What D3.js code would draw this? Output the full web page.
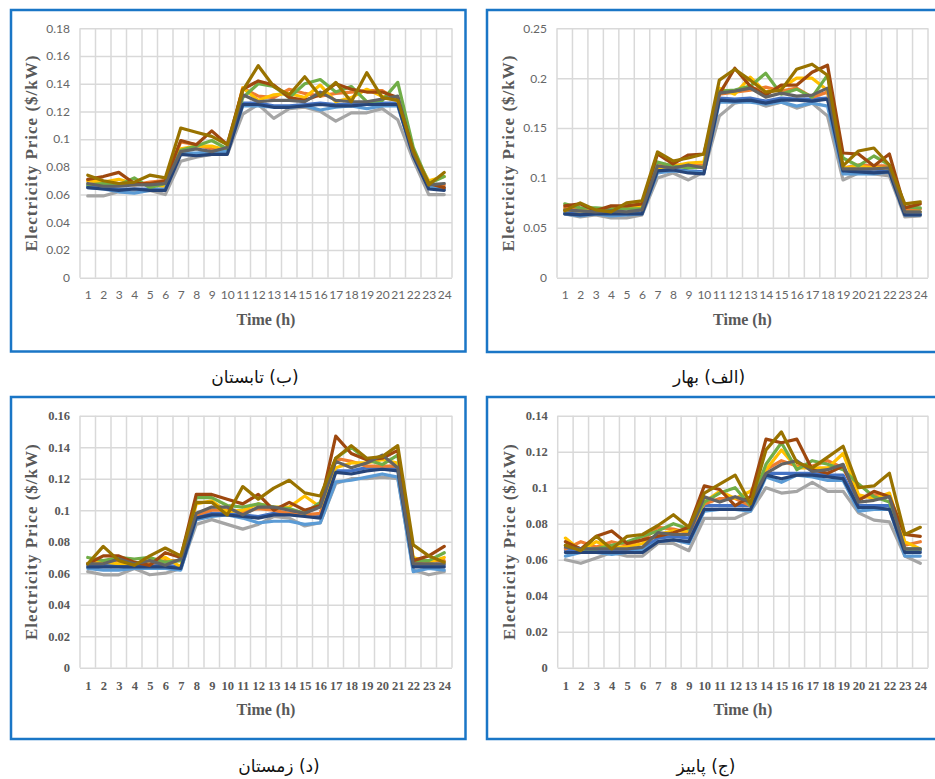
<!DOCTYPE html>
<html>
<head>
<meta charset="utf-8">
<script src="https://cdn.jsdelivr.net/npm/d3@7"></script>
<style>
  body { margin: 0; background: #fff; }
  svg { display: block; }
</style>
</head>
<body>
<svg id="chart" width="935" height="779"></svg>
<script>
// Hours of the day (category axis)
const hours = [1, 2, 3, 4, 5, 6, 7, 8, 9, 10, 11, 12, 13, 14, 15, 16, 17, 18, 19, 20, 21, 22, 23, 24];

// One colour per scenario line, in drawing order
const seriesColors = ["#4472C4", "#ED7D31", "#A5A5A5", "#FFC000", "#5B9BD5",
                      "#70AD47", "#264478", "#9E480E", "#636363", "#997300"];

// Y tick values per season
const springTicks = [0, 0.05, 0.1, 0.15, 0.2, 0.25];
const summerTicks = [0, 0.02, 0.04, 0.06, 0.08, 0.1, 0.12, 0.14, 0.16, 0.18];
const autumnTicks = [0, 0.02, 0.04, 0.06, 0.08, 0.1, 0.12, 0.14];
const winterTicks = [0, 0.02, 0.04, 0.06, 0.08, 0.1, 0.12, 0.14, 0.16];

// Hourly electricity prices ($/kW), one row per scenario
const springPrices = [
  [0.065,0.064,0.065,0.064,0.065,0.065,0.108,0.109,0.107,0.106,0.180,0.179,0.180,0.177,0.180,0.179,0.179,0.180,0.108,0.107,0.106,0.107,0.064,0.064],
  [0.070,0.069,0.068,0.070,0.071,0.072,0.112,0.113,0.112,0.113,0.184,0.186,0.188,0.191,0.187,0.190,0.181,0.186,0.110,0.113,0.112,0.112,0.068,0.069],
  [0.064,0.061,0.063,0.060,0.060,0.063,0.100,0.105,0.098,0.106,0.162,0.175,0.178,0.172,0.176,0.170,0.175,0.162,0.098,0.105,0.104,0.102,0.061,0.062],
  [0.068,0.067,0.068,0.069,0.070,0.071,0.110,0.112,0.115,0.116,0.190,0.184,0.201,0.186,0.190,0.200,0.200,0.188,0.110,0.112,0.110,0.110,0.066,0.066],
  [0.064,0.062,0.064,0.062,0.063,0.064,0.105,0.107,0.106,0.105,0.176,0.176,0.176,0.174,0.176,0.172,0.175,0.172,0.104,0.104,0.104,0.106,0.063,0.063],
  [0.074,0.070,0.070,0.069,0.069,0.069,0.116,0.112,0.110,0.111,0.187,0.188,0.192,0.205,0.184,0.189,0.181,0.203,0.120,0.112,0.122,0.113,0.071,0.070],
  [0.064,0.063,0.064,0.064,0.064,0.064,0.107,0.108,0.105,0.104,0.178,0.177,0.178,0.175,0.178,0.178,0.177,0.179,0.107,0.106,0.105,0.106,0.063,0.063],
  [0.072,0.074,0.067,0.072,0.072,0.074,0.124,0.114,0.123,0.124,0.184,0.210,0.192,0.183,0.193,0.193,0.206,0.213,0.125,0.124,0.112,0.124,0.070,0.074],
  [0.068,0.067,0.066,0.067,0.066,0.068,0.112,0.110,0.113,0.110,0.185,0.187,0.190,0.181,0.185,0.182,0.183,0.190,0.109,0.109,0.109,0.110,0.066,0.066],
  [0.067,0.075,0.068,0.066,0.075,0.077,0.126,0.117,0.120,0.124,0.198,0.209,0.198,0.186,0.188,0.209,0.214,0.203,0.112,0.127,0.130,0.113,0.074,0.076]
];

const summerPrices = [
  [0.066,0.065,0.064,0.064,0.064,0.064,0.090,0.089,0.090,0.090,0.126,0.126,0.124,0.124,0.125,0.126,0.125,0.125,0.126,0.126,0.126,0.089,0.065,0.064],
  [0.070,0.069,0.068,0.067,0.069,0.070,0.098,0.096,0.093,0.092,0.137,0.131,0.130,0.136,0.133,0.131,0.133,0.134,0.135,0.135,0.128,0.092,0.067,0.067],
  [0.059,0.059,0.062,0.062,0.063,0.060,0.084,0.087,0.089,0.089,0.118,0.125,0.115,0.122,0.123,0.120,0.113,0.119,0.119,0.122,0.114,0.085,0.060,0.060],
  [0.070,0.069,0.071,0.068,0.067,0.066,0.093,0.095,0.095,0.092,0.137,0.128,0.132,0.133,0.130,0.139,0.127,0.130,0.136,0.131,0.128,0.090,0.070,0.073],
  [0.065,0.064,0.062,0.061,0.063,0.064,0.090,0.090,0.091,0.091,0.124,0.124,0.123,0.123,0.124,0.121,0.123,0.124,0.122,0.124,0.124,0.088,0.065,0.065],
  [0.067,0.068,0.067,0.072,0.065,0.068,0.092,0.095,0.099,0.093,0.130,0.140,0.138,0.130,0.140,0.143,0.134,0.138,0.127,0.128,0.141,0.094,0.068,0.073],
  [0.065,0.064,0.063,0.064,0.063,0.063,0.089,0.088,0.089,0.089,0.125,0.125,0.123,0.123,0.124,0.125,0.124,0.124,0.125,0.125,0.125,0.088,0.064,0.063],
  [0.071,0.073,0.076,0.068,0.068,0.070,0.099,0.096,0.106,0.096,0.136,0.142,0.139,0.130,0.128,0.132,0.140,0.136,0.134,0.134,0.130,0.090,0.068,0.065],
  [0.068,0.066,0.066,0.067,0.067,0.068,0.091,0.093,0.091,0.094,0.132,0.127,0.128,0.128,0.127,0.134,0.128,0.127,0.127,0.129,0.131,0.090,0.067,0.068],
  [0.074,0.070,0.068,0.069,0.074,0.072,0.108,0.105,0.102,0.096,0.135,0.153,0.138,0.132,0.145,0.131,0.141,0.127,0.148,0.130,0.128,0.092,0.067,0.076]
];

const autumnPrices = [
  [0.065,0.065,0.065,0.065,0.065,0.066,0.072,0.073,0.072,0.090,0.090,0.090,0.090,0.108,0.108,0.108,0.108,0.107,0.107,0.090,0.090,0.090,0.065,0.065],
  [0.066,0.070,0.067,0.070,0.068,0.071,0.078,0.077,0.075,0.091,0.094,0.094,0.090,0.110,0.115,0.112,0.112,0.115,0.111,0.094,0.096,0.096,0.068,0.070],
  [0.060,0.058,0.061,0.064,0.062,0.062,0.069,0.069,0.065,0.083,0.083,0.083,0.087,0.100,0.097,0.098,0.103,0.098,0.098,0.086,0.082,0.081,0.062,0.058],
  [0.072,0.065,0.070,0.067,0.067,0.069,0.074,0.076,0.076,0.092,0.098,0.094,0.098,0.110,0.121,0.111,0.111,0.111,0.119,0.096,0.094,0.097,0.070,0.066],
  [0.062,0.064,0.064,0.063,0.064,0.065,0.070,0.071,0.069,0.087,0.088,0.088,0.087,0.106,0.103,0.107,0.106,0.104,0.104,0.087,0.088,0.088,0.062,0.062],
  [0.068,0.066,0.066,0.068,0.070,0.073,0.076,0.080,0.077,0.092,0.097,0.100,0.090,0.113,0.125,0.110,0.115,0.113,0.110,0.102,0.095,0.092,0.066,0.066],
  [0.064,0.064,0.064,0.064,0.064,0.064,0.070,0.071,0.070,0.088,0.088,0.088,0.088,0.107,0.105,0.107,0.107,0.106,0.105,0.089,0.089,0.088,0.064,0.064],
  [0.070,0.066,0.073,0.076,0.069,0.071,0.073,0.075,0.078,0.101,0.099,0.090,0.095,0.127,0.125,0.127,0.110,0.108,0.112,0.093,0.098,0.095,0.074,0.073],
  [0.067,0.066,0.066,0.066,0.066,0.067,0.075,0.074,0.074,0.095,0.092,0.095,0.092,0.108,0.113,0.115,0.109,0.110,0.113,0.092,0.093,0.095,0.066,0.066],
  [0.068,0.065,0.073,0.066,0.073,0.074,0.079,0.085,0.078,0.097,0.102,0.107,0.091,0.121,0.131,0.114,0.111,0.117,0.123,0.100,0.101,0.108,0.074,0.078]
];

const winterPrices = [
  [0.065,0.065,0.065,0.065,0.065,0.065,0.064,0.096,0.098,0.098,0.097,0.096,0.098,0.098,0.097,0.096,0.125,0.125,0.127,0.127,0.127,0.065,0.065,0.065],
  [0.066,0.068,0.068,0.066,0.066,0.068,0.068,0.097,0.100,0.100,0.099,0.101,0.100,0.098,0.097,0.098,0.133,0.131,0.128,0.128,0.128,0.067,0.068,0.068],
  [0.061,0.059,0.059,0.063,0.059,0.060,0.063,0.091,0.094,0.091,0.088,0.091,0.096,0.095,0.090,0.092,0.117,0.120,0.120,0.121,0.120,0.062,0.059,0.061],
  [0.066,0.067,0.066,0.066,0.068,0.070,0.064,0.104,0.106,0.099,0.100,0.104,0.102,0.102,0.109,0.102,0.127,0.130,0.130,0.132,0.130,0.070,0.067,0.070],
  [0.063,0.062,0.062,0.063,0.063,0.063,0.062,0.094,0.096,0.097,0.095,0.092,0.093,0.093,0.091,0.092,0.118,0.119,0.121,0.123,0.121,0.061,0.063,0.062],
  [0.070,0.068,0.070,0.069,0.070,0.067,0.068,0.108,0.108,0.103,0.102,0.104,0.102,0.101,0.098,0.105,0.133,0.140,0.132,0.129,0.135,0.068,0.068,0.073],
  [0.064,0.064,0.064,0.064,0.064,0.064,0.063,0.095,0.097,0.097,0.096,0.095,0.097,0.097,0.096,0.095,0.124,0.123,0.125,0.126,0.125,0.064,0.064,0.064],
  [0.066,0.071,0.071,0.067,0.065,0.073,0.070,0.110,0.110,0.107,0.104,0.110,0.100,0.105,0.100,0.103,0.147,0.136,0.132,0.133,0.138,0.068,0.071,0.077],
  [0.066,0.066,0.069,0.066,0.068,0.065,0.069,0.098,0.102,0.102,0.097,0.102,0.102,0.100,0.098,0.102,0.131,0.127,0.130,0.135,0.127,0.066,0.066,0.066],
  [0.066,0.077,0.068,0.065,0.071,0.076,0.071,0.105,0.105,0.097,0.115,0.107,0.114,0.119,0.111,0.109,0.133,0.141,0.133,0.134,0.141,0.078,0.071,0.067]
];

// Panel layout: frame, plot area and caption for each season
const panels = [
  { caption: "(ب)  تابستان", prices: summerPrices, ticks: summerTicks, serifTicks: false,
    frame: [11, 10, 454.5, 341.5], plot: [80, 452, 28.3, 277.7], capX: 255, capY: 383 },
  { caption: "(الف) بهار", prices: springPrices, ticks: springTicks, serifTicks: false,
    frame: [487, 10, 452, 342], plot: [557, 928, 28.3, 277.7], capX: 709, capY: 383 },
  { caption: "(د) زمستان", prices: winterPrices, ticks: winterTicks, serifTicks: true,
    frame: [11, 397, 454.5, 342], plot: [80, 452, 415.7, 667.7], capX: 279, capY: 772 },
  { caption: "(ج) پاییز", prices: autumnPrices, ticks: autumnTicks, serifTicks: true,
    frame: [487, 397, 452, 342], plot: [557.7, 928, 415.7, 667.7], capX: 706, capY: 772 }
];

const svg = d3.select("#chart");
const fmt = d => d === 0 ? "0" : String(+d.toFixed(2));
const gridColor = "#d9d9d9";
const textColor = "#595959";

function drawPanel(p) {
  const [x0, x1, yTop, yBottom] = p.plot;
  const g = svg.append("g");

  // blue frame around the chart
  g.append("rect")
    .attr("x", p.frame[0]).attr("y", p.frame[1])
    .attr("width", p.frame[2]).attr("height", p.frame[3])
    .attr("fill", "none").attr("stroke", "#1a76c6").attr("stroke-width", 2.5);

  const xBand = d3.scaleBand().domain(hours).range([x0, x1]);
  const x = d3.scalePoint().domain(hours).range([x0, x1]).padding(0.5);
  const y = d3.scaleLinear().domain([0, d3.max(p.ticks)]).range([yBottom, yTop]);

  const tickFont = p.serifTicks
    ? { family: "'Liberation Serif', 'Times New Roman', serif", weight: "bold", size: "12.5px", color: textColor }
    : { family: "Lato, 'Liberation Sans', sans-serif", weight: "normal", size: "12px", color: "#666" };

  // vertical gridlines on category boundaries
  const bounds = hours.map(h => xBand(h)).concat([x1]);
  g.append("g").selectAll("line").data(bounds).join("line")
    .attr("x1", d => d).attr("x2", d => d)
    .attr("y1", yTop).attr("y2", yBottom)
    .attr("stroke", gridColor).attr("stroke-width", 1.5);

  // horizontal gridlines + value labels
  const yAxis = g.append("g").attr("transform", `translate(${x0},0)`)
    .call(d3.axisLeft(y).tickValues(p.ticks).tickFormat(fmt)
      .tickSize(-(x1 - x0)).tickPadding(10));
  yAxis.select(".domain").remove();
  yAxis.selectAll(".tick line").attr("stroke", gridColor).attr("stroke-width", 1.5);
  yAxis.selectAll(".tick text")
    .attr("fill", tickFont.color).style("font-family", tickFont.family)
    .style("font-weight", tickFont.weight).style("font-size", tickFont.size);

  // hour labels
  const xAxis = g.append("g").attr("transform", `translate(0,${yBottom})`)
    .call(d3.axisBottom(x).tickSize(0).tickPadding(13));
  xAxis.select(".domain").remove();
  xAxis.selectAll(".tick text")
    .attr("fill", tickFont.color).style("font-family", tickFont.family)
    .style("font-weight", tickFont.weight).style("font-size", tickFont.size);

  // price lines
  const line = d3.line().x((d, i) => x(hours[i])).y(d => y(d));
  g.append("g").selectAll("path").data(p.prices).join("path")
    .attr("d", line)
    .attr("fill", "none")
    .attr("stroke", (d, i) => seriesColors[i])
    .attr("stroke-width", 3.2)
    .attr("stroke-linejoin", "round")
    .attr("stroke-linecap", "round");

  // axis titles
  g.append("text")
    .attr("x", (x0 + x1) / 2).attr("y", yBottom + 47)
    .attr("text-anchor", "middle")
    .attr("fill", textColor)
    .style("font-family", "'Liberation Serif', 'Times New Roman', serif")
    .style("font-weight", "bold").style("font-size", "16px")
    .text("Time (h)");

  g.append("text")
    .attr("transform", `translate(${x0 - 43},${(yTop + yBottom) / 2}) rotate(-90)`)
    .attr("text-anchor", "middle")
    .attr("fill", textColor)
    .style("font-family", "'Liberation Serif', 'Times New Roman', serif")
    .style("font-weight", "bold").style("font-size", "17px")
    .style("letter-spacing", "1px")
    .text("Electricity Price ($/kW)");

  // season caption below the frame
  svg.append("text")
    .attr("x", p.capX).attr("y", p.capY)
    .attr("text-anchor", "middle")
    .attr("direction", "rtl")
    .attr("fill", "#111")
    .style("font-family", "'DejaVu Sans', 'Noto Sans', sans-serif")
    .style("font-size", "17px")
    .text(p.caption);
}

panels.forEach(drawPanel);
</script>
</body>
</html>
